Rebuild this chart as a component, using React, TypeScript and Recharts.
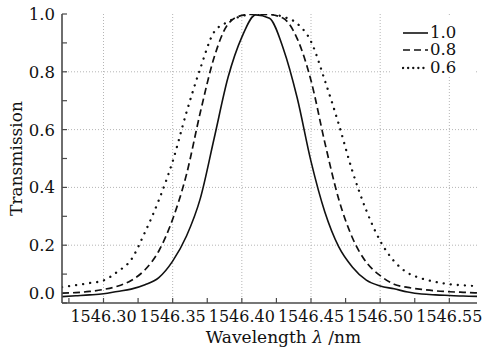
import React from 'react';
import { LineChart, Line, XAxis, YAxis, ReferenceLine, Label } from 'recharts';

// wavelength grid (nm) and transmission
const wavelength = [
  1546.27, 1546.28, 1546.29, 1546.3, 1546.31, 1546.32, 1546.33, 1546.34, 1546.35, 1546.36, 1546.37,
  1546.38, 1546.39, 1546.4, 1546.41, 1546.42, 1546.43, 1546.44, 1546.45, 1546.46, 1546.47, 1546.48,
  1546.49, 1546.5, 1546.51, 1546.52, 1546.53, 1546.54, 1546.55, 1546.56, 1546.57,
];
const trans10 = [
  0.022, 0.025, 0.028, 0.032, 0.04, 0.048, 0.063, 0.088, 0.145, 0.232, 0.362, 0.57, 0.78, 0.92, 0.997,
  0.985, 0.88, 0.71, 0.49, 0.315, 0.195, 0.124, 0.079, 0.059, 0.049, 0.038, 0.031, 0.028, 0.026, 0.024, 0.023,
];
const trans08 = [
  0.034, 0.036, 0.04, 0.047, 0.058, 0.078, 0.115, 0.18, 0.29, 0.445, 0.66, 0.85, 0.965, 0.995, 1.0,
  0.998, 0.985, 0.915, 0.77, 0.555, 0.36, 0.225, 0.141, 0.095, 0.065, 0.054, 0.047, 0.042, 0.039, 0.037, 0.035,
];
const trans06 = [
  0.055, 0.062, 0.069, 0.078, 0.108, 0.15, 0.245, 0.356, 0.49, 0.66, 0.812, 0.938, 0.973, 0.993, 1.0,
  1.0, 0.99, 0.967, 0.905, 0.77, 0.62, 0.455, 0.32, 0.215, 0.145, 0.104, 0.085, 0.073, 0.065, 0.061, 0.059,
];

const seriesNames = ['1.0', '0.8', '0.6'];
const seriesKeys = ['t10', 't08', 't06'];

const xMajor = [1546.3, 1546.35, 1546.4, 1546.45, 1546.5, 1546.55];
const xMinor = [1546.275, 1546.325, 1546.375, 1546.425, 1546.475, 1546.525];
const yMajor = [0, 0.2, 0.4, 0.6, 0.8, 1.0];
const yMinor = [0.1, 0.3, 0.5, 0.7, 0.9];
const yGrid = [0.2, 0.4, 0.6, 0.8];

const data = wavelength.map((w, i) => ({ w, t10: trans10[i], t08: trans08[i], t06: trans06[i] }));

const xTicks = [...xMajor, ...xMinor].sort((a, b) => a - b);
const yTicks = [...yMajor, ...yMinor].sort((a, b) => a - b);

const FONT = '"DejaVu Serif", serif';
const AXIS = '#4a4a4a';
const GRID = '#b5b5b5';

const lineStyles = [
  { dash: undefined, width: 1.6, cap: 'butt' },
  { dash: '7 4', width: 1.7, cap: 'butt' },
  { dash: '0.1 7', width: 2.3, cap: 'round' },
];

const isMajor = (list: number[], v: number) => list.some((m) => Math.abs(m - v) < 1e-6);

const YTick = ({ x, y, payload }: any) => {
  const v = payload.value;
  if (!isMajor(yMajor, v)) return <g />;
  // the figure prints its "0.0" label a little above the bottom frame
  const shift = v === 0 ? -10 : 0;
  return (
    <text x={x} y={y + shift} dy="0.36em" textAnchor="end" fontFamily={FONT} fontSize={16.5} fill="#111">
      {v.toFixed(1)}
    </text>
  );
};

const LegendBox = () => (
  <div
    style={{
      position: 'absolute',
      left: 390,
      top: 15,
      width: 85,
      height: 61,
      background: '#fff',
      paddingTop: 9,
      boxSizing: 'border-box',
      fontFamily: FONT,
      fontSize: 16.5,
      color: '#111',
    }}
  >
    {seriesNames.map((name, i) => (
      <div key={name} style={{ display: 'flex', alignItems: 'center', height: 17.5, paddingLeft: 12 }}>
        <svg width={27} height={6} style={{ display: 'block' }}>
          <line
            x1={1}
            y1={3}
            x2={26}
            y2={3}
            stroke="#111"
            strokeWidth={lineStyles[i].width}
            strokeDasharray={i === 2 ? '0.1 5' : lineStyles[i].dash}
            strokeLinecap={lineStyles[i].cap as any}
          />
        </svg>
        <span style={{ display: 'block', marginLeft: 1, lineHeight: '16px', height: 16 }}>{name}</span>
      </div>
    ))}
  </div>
);

export default function App() {
  return (
    <div style={{ position: 'absolute', left: 0, top: 0, width: 493, height: 348, background: '#fff' }}>
      <LineChart width={493} height={348} data={data} margin={{ top: 14, right: 16, left: 0, bottom: 0 }}>
        <XAxis
          dataKey="w"
          type="number"
          domain={[1546.27, 1546.57]}
          allowDataOverflow
          ticks={xTicks}
          interval={0}
          height={45}
          tickSize={-5}
          tickMargin={13}
          tickFormatter={(v: number) => (isMajor(xMajor, v) ? v.toFixed(2) : '')}
          tick={{ fontFamily: FONT, fontSize: 16, fill: '#111' }}
          axisLine={{ stroke: AXIS, strokeWidth: 1.6 }}
          tickLine={{ stroke: AXIS, strokeWidth: 1.2 }}
        >
          <Label
            content={({ viewBox }: any) => (
              <text
                x={viewBox.x + viewBox.width / 2 + 14}
                y={viewBox.y + 40}
                textAnchor="middle"
                fontFamily={FONT}
                fontSize={17}
                fill="#111"
              >
                Wavelength <tspan fontStyle="italic">λ</tspan> /nm
              </text>
            )}
          />
        </XAxis>
        <XAxis
          xAxisId="top"
          orientation="top"
          dataKey="w"
          type="number"
          domain={[1546.27, 1546.57]}
          allowDataOverflow
          ticks={xTicks}
          interval={0}
          height={0}
          tickSize={-5}
          tickFormatter={() => ''}
          axisLine={{ stroke: AXIS, strokeWidth: 1.6 }}
          tickLine={{ stroke: AXIS, strokeWidth: 1.2 }}
        />
        <YAxis
          type="number"
          domain={[0, 1]}
          allowDataOverflow
          ticks={yTicks}
          interval={0}
          width={62}
          tickSize={-5}
          tickMargin={12}
          tick={<YTick />}
          axisLine={{ stroke: AXIS, strokeWidth: 1.6 }}
          tickLine={{ stroke: AXIS, strokeWidth: 1.2 }}
        >
          <Label
            content={({ viewBox }: any) => (
              <text
                transform={`translate(${viewBox.x + 16}, ${viewBox.y + viewBox.height / 2}) rotate(-90)`}
                textAnchor="middle"
                dy="0.36em"
                fontFamily={FONT}
                fontSize={17}
                fill="#111"
              >
                Transmission
              </text>
            )}
          />
        </YAxis>
        <YAxis
          yAxisId="right"
          orientation="right"
          type="number"
          domain={[0, 1]}
          allowDataOverflow
          ticks={yTicks}
          interval={0}
          width={0}
          tickSize={-5}
          tickFormatter={() => ''}
          axisLine={{ stroke: AXIS, strokeWidth: 1.6 }}
          tickLine={{ stroke: AXIS, strokeWidth: 1.2 }}
        />
        {xMajor.map((v) => (
          <ReferenceLine key={`gx-${v}`} x={v} stroke={GRID} strokeDasharray="1 2" strokeWidth={1} />
        ))}
        {yGrid.map((v) => (
          <ReferenceLine key={`gy-${v}`} y={v} stroke={GRID} strokeDasharray="1 2" strokeWidth={1} />
        ))}
        {seriesKeys.map((k, i) => (
          <Line
            key={k}
            dataKey={k}
            name={seriesNames[i]}
            type="monotone"
            stroke="#111"
            strokeWidth={lineStyles[i].width}
            strokeDasharray={lineStyles[i].dash}
            strokeLinecap={lineStyles[i].cap as any}
            dot={false}
            activeDot={false}
            isAnimationActive={false}
          />
        ))}
      </LineChart>
      <LegendBox />
    </div>
  );
}
